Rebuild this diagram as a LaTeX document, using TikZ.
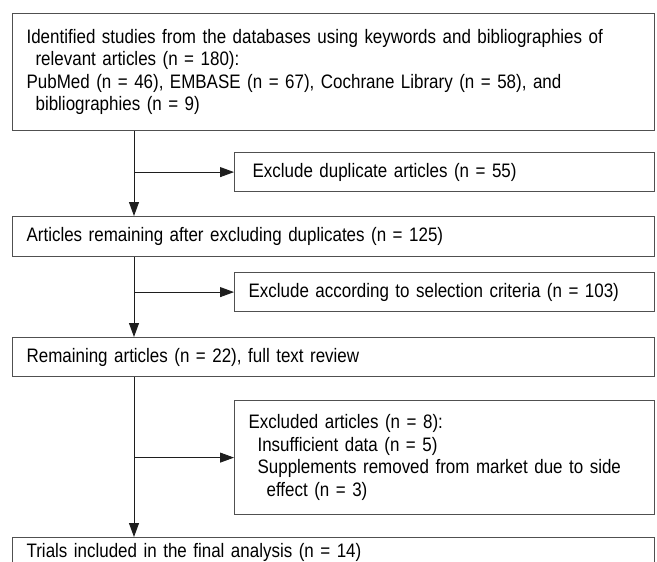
\documentclass[tikz,border=0pt]{standalone}
\usepackage{fontspec}
\setmainfont[FakeStretch=0.87]{Liberation Sans}
\usetikzlibrary{arrows.meta}
\definecolor{boxgray}{HTML}{505050}
\definecolor{linegray}{HTML}{1E1E1E}
\newcommand{\ind}{\hspace*{9pt}}
\begin{document}
\begin{tikzpicture}[x=1pt,y=-1pt,
  box/.style={draw=boxgray, line width=1.2pt, rectangle, anchor=north west,
    align=left, inner xsep=14pt, inner ysep=0pt,
    font=\fontsize{19.5}{22.5}\selectfont},
  mainbox/.style={box, text width=614pt, minimum width=642pt},
  exclbox/.style={box, text width=392pt, minimum width=420pt},
  arr/.style={draw=linegray, line width=0.9pt, -{Triangle[length=14pt,width=10pt]}}]
\useasboundingbox (0,0) rectangle (657,562);
\clip (0,0) rectangle (657,562);
\coordinate (m) at (134,0);
\node[mainbox, minimum height=117pt] (b1) at (12,13)
  {Identified studies from the databases using keywords and bibliographies of\\
   \ind relevant articles (n = 180):\\
   PubMed (n = 46), EMBASE (n = 67), Cochrane Library (n = 58), and\\
   \ind bibliographies (n = 9)};
\node[exclbox, minimum height=39pt] (e1) at (234,152) {\hspace*{4pt}Exclude duplicate articles (n = 55)};
\node[mainbox, minimum height=40pt] (b2) at (12,216) {Articles remaining after excluding duplicates (n = 125)};
\node[exclbox, minimum height=39pt] (e2) at (234,272) {Exclude according to selection criteria (n = 103)};
\node[mainbox, minimum height=39pt] (b3) at (12,337) {Remaining articles (n = 22), full text review};
\node[exclbox, minimum height=114pt] (e3) at (234,400)
  {Excluded articles (n = 8):\\
   \ind Insufficient data (n = 5)\\
   \ind Supplements removed from market due to side\\
   \ind\ind effect (n = 3)};
\node[mainbox, minimum height=30pt] (b4) at (12,537) {Trials included in the final analysis (n = 14)};
\draw[arr] (b1.south -| m) -- (b2.north -| m);
\draw[arr] (e1.west -| m) -- (e1.west);
\draw[arr] (b2.south -| m) -- (b3.north -| m);
\draw[arr] (e2.west -| m) -- (e2.west);
\draw[arr] (b3.south -| m) -- (b4.north -| m);
\draw[arr] (e3.west -| m) -- (e3.west);
\end{tikzpicture}
\end{document}
